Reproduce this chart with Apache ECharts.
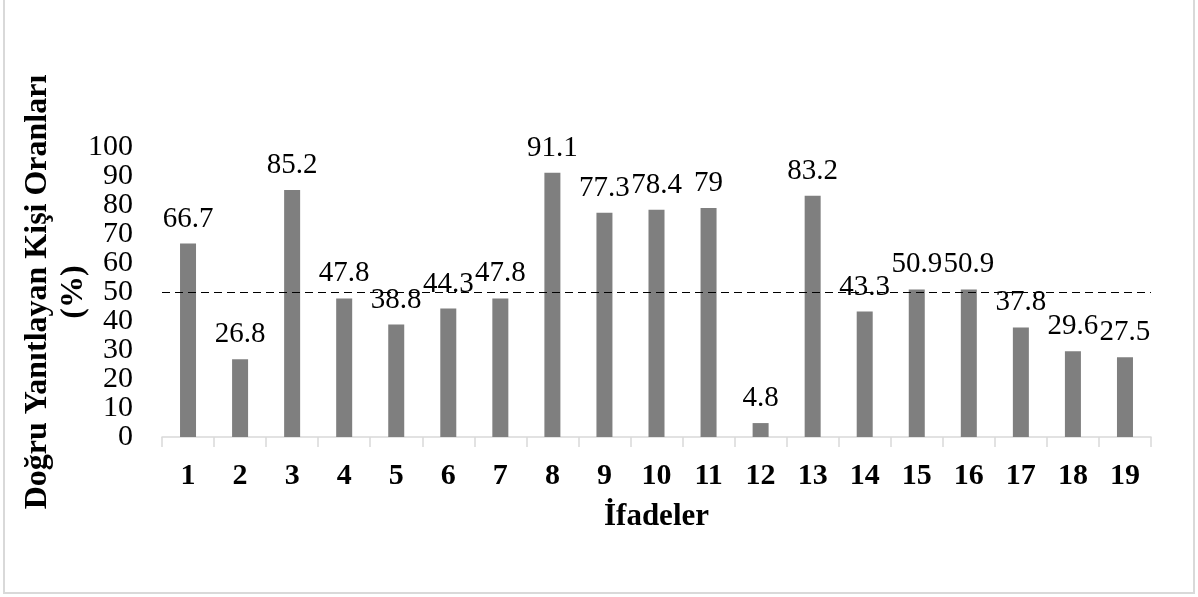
<!DOCTYPE html>
<html>
<head>
<meta charset="utf-8">
<script src="https://cdn.jsdelivr.net/npm/echarts@6/dist/echarts.min.js"></script>
<style>
  html, body { margin: 0; padding: 0; background: #fff; }
  #chart { width: 1198px; height: 597px; }
</style>
</head>
<body>
<div id="chart"></div>
<script>
// Statement numbers and share of correct answers (%)
const categories = ['1','2','3','4','5','6','7','8','9','10','11','12','13','14','15','16','17','18','19'];
const correctRates = [66.7, 26.8, 85.2, 47.8, 38.8, 44.3, 47.8, 91.1, 77.3, 78.4, 79, 4.8, 83.2, 43.3, 50.9, 50.9, 37.8, 29.6, 27.5];
const referenceLevel = 50;
const yRange = { min: 0, max: 100 };
const yStep = 10;

const serif = '"Liberation Serif", "Times New Roman", serif';
const tickFont = { color: '#000', fontFamily: serif, fontSize: 30 };

// The tick labels sit closer together than their height, so even and odd
// tens are put on two coincident axes to keep every one of them visible.
const baseYAxis = {
  type: 'value',
  position: 'left',
  min: yRange.min,
  max: yRange.max,
  axisLine: { show: false },
  axisTick: { show: false },
  splitLine: { show: false }
};

const chart = echarts.init(document.getElementById('chart'));
chart.setOption({
  animation: false,
  backgroundColor: '#ffffff',
  graphic: [{
    type: 'rect',
    shape: { x: 4, y: -6, width: 1190, height: 599 },
    style: { fill: 'none', stroke: '#d9d9d9', lineWidth: 2 },
    silent: true
  }],
  grid: { left: 162, right: 47, top: 147, bottom: 160 },
  xAxis: {
    type: 'category',
    data: categories,
    boundaryGap: true,
    axisLine: { show: true, lineStyle: { color: '#d9d9d9', width: 1.5 } },
    axisTick: { show: true, length: 10, lineStyle: { color: '#d9d9d9', width: 1.5 } },
    axisLabel: { color: '#000', fontFamily: serif, fontWeight: 'bold', fontSize: 30, margin: 24 },
    name: 'İfadeler',
    nameLocation: 'middle',
    nameGap: 64,
    nameMoveOverlap: false,
    nameTextStyle: { color: '#000', fontFamily: serif, fontWeight: 'bold', fontSize: 31 }
  },
  yAxis: [
    Object.assign({}, baseYAxis, {
      interval: yStep * 2,
      axisLabel: Object.assign({ margin: 29, showMinLabel: true, showMaxLabel: true }, tickFont),
      name: 'Doğru Yanıtlayan Kişi Oranları\n(%)',
      nameLocation: 'middle',
      nameRotate: 90,
      nameGap: 70,
      nameMoveOverlap: false,
      nameTextStyle: { color: '#000', fontFamily: serif, fontWeight: 'bold', fontSize: 32, lineHeight: 36 }
    }),
    Object.assign({}, baseYAxis, {
      interval: yStep,
      axisLabel: Object.assign({
        margin: 29,
        showMinLabel: true,
        showMaxLabel: true,
        formatter: function (v) { return (v / yStep) % 2 === 1 ? String(v) : ''; }
      }, tickFont)
    })
  ],
  series: [{
    type: 'bar',
    yAxisIndex: 0,
    data: correctRates,
    barWidth: 16,
    itemStyle: { color: '#7f7f7f' },
    label: {
      show: true,
      position: 'top',
      distance: 10,
      color: '#000',
      fontFamily: serif,
      fontSize: 29
    },
    markLine: {
      silent: true,
      symbol: ['none', 'none'],
      label: { show: false },
      lineStyle: { color: '#000', type: [8, 5], width: 1 },
      data: [{ yAxis: referenceLevel }]
    }
  }]
});
</script>
</body>
</html>
